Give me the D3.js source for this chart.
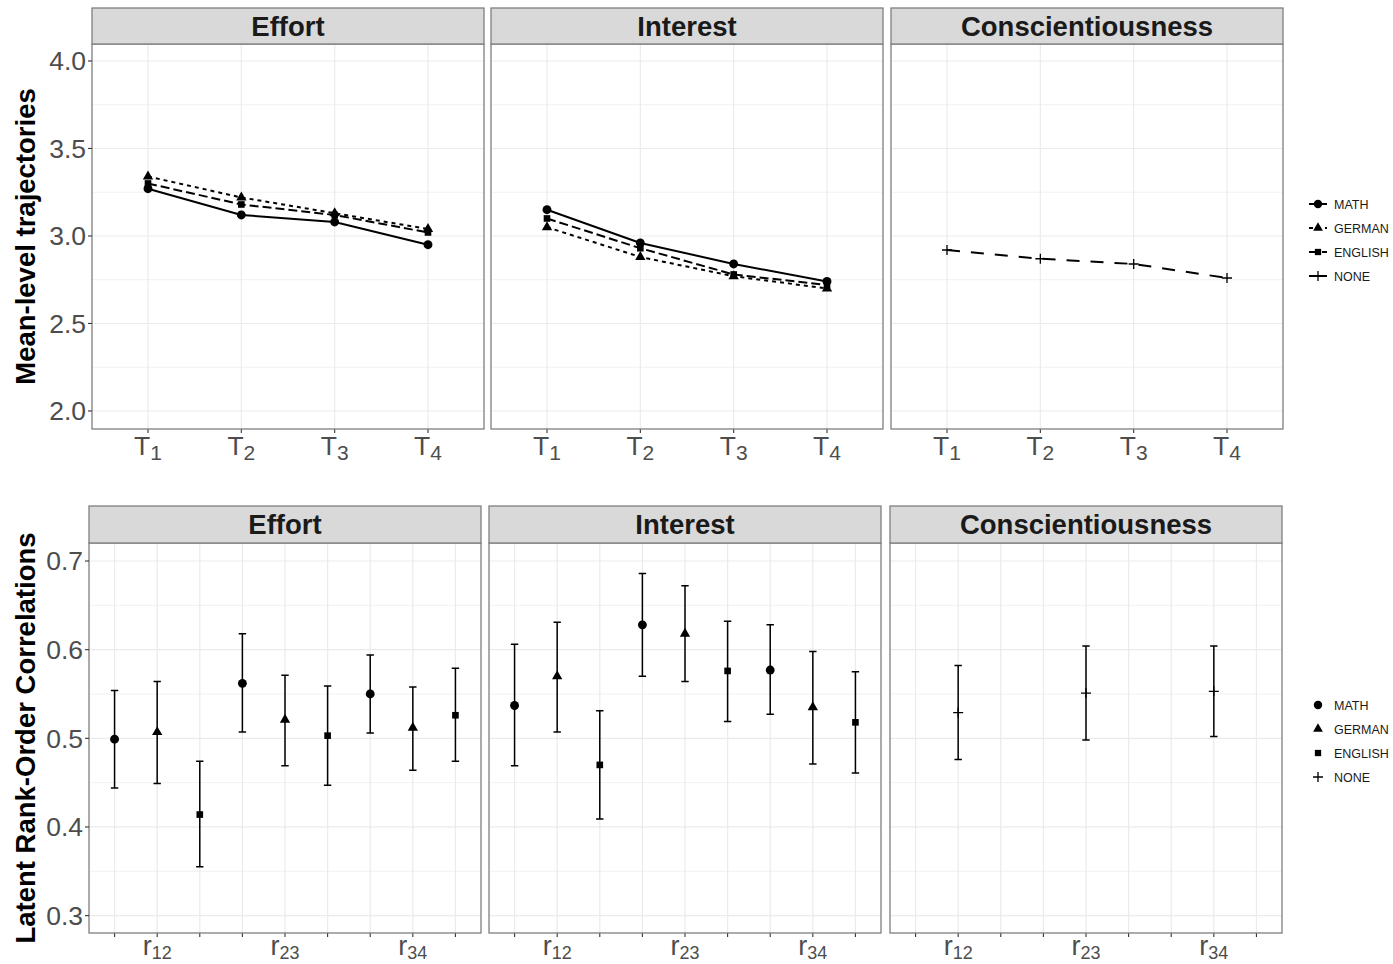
<!DOCTYPE html>
<html>
<head>
<meta charset="utf-8">
<script src="https://cdn.jsdelivr.net/npm/d3@7"></script>
<style>
  body { margin: 0; background: #fff; }
  text { font-family: "Liberation Sans", Arial, sans-serif; }
</style>
</head>
<body>
<svg id="chart" width="1393" height="964"></svg>
<script>
var facets = ["Effort", "Interest", "Conscientiousness"];
var groups = ["MATH", "GERMAN", "ENGLISH", "NONE"];
var timePoints = ["1", "2", "3", "4"];
var lags = ["12", "23", "34"];
var meanTicks = [2.0, 2.5, 3.0, 3.5, 4.0];
var corrTicks = [0.3, 0.4, 0.5, 0.6, 0.7];

// mean-level trajectories (T1..T4)
var effortMath    = [3.27, 3.12, 3.08, 2.95];
var effortGerman  = [3.34, 3.22, 3.13, 3.04];
var effortEnglish = [3.30, 3.18, 3.12, 3.02];
var interestMath    = [3.15, 2.96, 2.84, 2.74];
var interestGerman  = [3.05, 2.88, 2.77, 2.70];
var interestEnglish = [3.10, 2.93, 2.78, 2.72];
var conscNone = [2.92, 2.87, 2.84, 2.76];

// rank-order correlations, slots: MATH/GERMAN/ENGLISH for r12, r23, r34
var effortCorr  = [0.499, 0.507, 0.414, 0.562, 0.521, 0.503, 0.550, 0.512, 0.526];
var effortLow   = [0.444, 0.449, 0.355, 0.507, 0.469, 0.447, 0.506, 0.464, 0.474];
var effortHigh  = [0.554, 0.564, 0.474, 0.618, 0.571, 0.559, 0.594, 0.558, 0.579];
var interestCorr = [0.537, 0.570, 0.470, 0.628, 0.618, 0.576, 0.577, 0.535, 0.518];
var interestLow  = [0.469, 0.507, 0.409, 0.570, 0.564, 0.519, 0.527, 0.471, 0.461];
var interestHigh = [0.606, 0.631, 0.531, 0.686, 0.672, 0.632, 0.628, 0.598, 0.575];
var conscSlots = [1, 4, 7];
var conscCorr  = [0.529, 0.551, 0.553];
var conscLow   = [0.476, 0.498, 0.502];
var conscHigh  = [0.582, 0.604, 0.604];

var svg = d3.select("#chart");
var panelW = 392;

var dashes = { MATH: null, GERMAN: "4,4", ENGLISH: "9,4", NONE: "13,11" };

function drawShape(g, group, x, y, s) {
  if (group == "NONE") {
    g.append("path")
      .attr("d", "M" + (x - 5) + "," + y + "h10M" + x + "," + (y - 5) + "v10")
      .attr("stroke", "#000").attr("stroke-width", 1.3).attr("fill", "none");
    return;
  }
  var type = group == "MATH" ? d3.symbolCircle : group == "GERMAN" ? d3.symbolTriangle : d3.symbolSquare;
  var size = group == "MATH" ? 62 * s : group == "GERMAN" ? 46 * s : 44 * s;
  g.append("path")
    .attr("d", d3.symbol().type(type).size(size)())
    .attr("transform", "translate(" + x + "," + y + ")")
    .attr("fill", "#000");
}

function drawPanelFrame(left, top, bottom, stripTop, yScale, majors, minors, xs, title, showY, fmt) {
  var g = svg.append("g");
  g.append("rect").attr("x", left).attr("y", top).attr("width", panelW).attr("height", bottom - top).attr("fill", "#fff");
  minors.forEach(function(v) {
    g.append("line").attr("x1", left).attr("x2", left + panelW)
      .attr("y1", yScale(v)).attr("y2", yScale(v))
      .attr("stroke", "#ebebeb").attr("stroke-width", 0.7);
  });
  majors.forEach(function(v) {
    g.append("line").attr("x1", left).attr("x2", left + panelW)
      .attr("y1", yScale(v)).attr("y2", yScale(v))
      .attr("stroke", "#ebebeb").attr("stroke-width", 1.2);
  });
  xs.forEach(function(x) {
    g.append("line").attr("x1", x).attr("x2", x).attr("y1", top).attr("y2", bottom)
      .attr("stroke", "#ebebeb").attr("stroke-width", 1.2);
    g.append("line").attr("x1", x).attr("x2", x).attr("y1", bottom).attr("y2", bottom + 4)
      .attr("stroke", "#333").attr("stroke-width", 1.1);
  });
  g.append("rect").attr("x", left).attr("y", top).attr("width", panelW).attr("height", bottom - top)
    .attr("fill", "none").attr("stroke", "#7f7f7f").attr("stroke-width", 1.3);
  // strip
  g.append("rect").attr("x", left).attr("y", stripTop).attr("width", panelW).attr("height", top - stripTop)
    .attr("fill", "#d9d9d9").attr("stroke", "#7f7f7f").attr("stroke-width", 1.3);
  g.append("text").attr("x", left + panelW / 2).attr("y", (stripTop + top) / 2 + 9.5)
    .attr("text-anchor", "middle").attr("font-size", 27.5).attr("font-weight", "bold")
    .attr("fill", "#1a1a1a").text(title);
  if (showY) {
    majors.forEach(function(v) {
      g.append("line").attr("x1", left - 4).attr("x2", left).attr("y1", yScale(v)).attr("y2", yScale(v))
        .attr("stroke", "#333").attr("stroke-width", 1.1);
      g.append("text").attr("x", left - 6).attr("y", yScale(v) + 9.5)
        .attr("text-anchor", "end").attr("font-size", 26.5).attr("fill", "#4d4d4d").text(fmt(v));
    });
  }
  return g;
}

// ---------- top row: mean-level trajectories ----------
var topLefts = [92, 491, 891];
var topTop = 44, topBottom = 429;
var yMean = d3.scaleLinear().domain([1.897, 4.097]).range([topBottom, topTop]);

var meanSeries = [
  { facet: 0, group: "MATH", values: effortMath },
  { facet: 0, group: "GERMAN", values: effortGerman },
  { facet: 0, group: "ENGLISH", values: effortEnglish },
  { facet: 1, group: "MATH", values: interestMath },
  { facet: 1, group: "GERMAN", values: interestGerman },
  { facet: 1, group: "ENGLISH", values: interestEnglish },
  { facet: 2, group: "NONE", values: conscNone }
];

facets.forEach(function(f, i) {
  var left = topLefts[i];
  var x = d3.scalePoint().domain(timePoints).range([left, left + panelW]).padding(0.6);
  var g = drawPanelFrame(left, topTop, topBottom, 8, yMean, meanTicks, [2.25, 2.75, 3.25, 3.75],
    timePoints.map(function(t) { return x(t); }), f, i == 0, d3.format(".1f"));

  timePoints.forEach(function(t) {
    var lab = g.append("text").attr("x", x(t)).attr("y", 455).attr("text-anchor", "middle")
      .attr("fill", "#4d4d4d");
    lab.append("tspan").attr("font-size", 26.5).text("T");
    lab.append("tspan").attr("font-size", 21).attr("dy", 5).text(t);
  });

  var series = meanSeries.filter(function(s) { return s.facet == i; });
  var line = d3.line().x(function(d, j) { return x(timePoints[j]); }).y(function(d) { return yMean(d); });
  series.forEach(function(s) {
    g.append("path").attr("d", line(s.values)).attr("fill", "none")
      .attr("stroke", "#000").attr("stroke-width", 2)
      .attr("stroke-dasharray", dashes[s.group]);
  });
  series.forEach(function(s) {
    s.values.forEach(function(v, j) { drawShape(g, s.group, x(timePoints[j]), yMean(v), 1); });
  });
});

// ---------- bottom row: rank-order correlations ----------
var botLefts = [89, 489, 890];
var botTop = 543, botBottom = 933;
var yCorr = d3.scaleLinear().domain([0.2804, 0.7203]).range([botBottom, botTop]);
var slots = d3.range(9);

var corrSeries = [
  { est: effortCorr, low: effortLow, high: effortHigh, slots: slots },
  { est: interestCorr, low: interestLow, high: interestHigh, slots: slots },
  { est: conscCorr, low: conscLow, high: conscHigh, slots: conscSlots }
];

facets.forEach(function(f, i) {
  var left = botLefts[i];
  var x = d3.scalePoint().domain(slots).range([left, left + panelW]).padding(0.6);
  var g = drawPanelFrame(left, botTop, botBottom, 506, yCorr, corrTicks, [0.35, 0.45, 0.55, 0.65],
    slots.map(function(s) { return x(s); }), f, i == 0, d3.format(".1f"));

  lags.forEach(function(l, k) {
    var lab = g.append("text").attr("x", x(k * 3 + 1)).attr("y", 955).attr("text-anchor", "middle")
      .attr("fill", "#4d4d4d");
    lab.append("tspan").attr("font-size", 27).text("r");
    lab.append("tspan").attr("font-size", 18).attr("dy", 4).text(l);
  });

  var c = corrSeries[i];
  c.est.forEach(function(v, j) {
    var sx = x(c.slots[j]);
    var group = i == 2 ? "NONE" : groups[c.slots[j] % 3];
    var eb = "M" + sx + "," + yCorr(c.high[j]) + "V" + yCorr(c.low[j]) +
      "M" + (sx - 3.7) + "," + yCorr(c.high[j]) + "h7.4" +
      "M" + (sx - 3.7) + "," + yCorr(c.low[j]) + "h7.4";
    g.append("path").attr("d", eb).attr("stroke", "#000").attr("stroke-width", 1.5).attr("fill", "none");
    drawShape(g, group, sx, yCorr(v), 1);
  });
});

// ---------- axis titles ----------
svg.append("text").attr("transform", "translate(35," + (topTop + topBottom) / 2 + ") rotate(-90)")
  .attr("text-anchor", "middle").attr("font-size", 27.5).attr("font-weight", "bold")
  .text("Mean-level trajectories");
svg.append("text").attr("transform", "translate(35," + (botTop + botBottom) / 2 + ") rotate(-90)")
  .attr("text-anchor", "middle").attr("font-size", 27.5).attr("font-weight", "bold")
  .text("Latent Rank-Order Correlations");

// ---------- legends ----------
function legend(y0, withLines) {
  var g = svg.append("g");
  groups.forEach(function(gr, i) {
    var y = y0 + i * 24;
    if (withLines) {
      g.append("line").attr("x1", 1309).attr("x2", 1327).attr("y1", y).attr("y2", y)
        .attr("stroke", "#000").attr("stroke-width", 2)
        .attr("stroke-dasharray", gr == "NONE" ? null : dashes[gr]);
    }
    drawShape(g, gr, 1318, y, 0.9);
    g.append("text").attr("x", 1334).attr("y", y + 4.5).attr("font-size", 12.5).attr("fill", "#1a1a1a").text(gr);
  });
}
legend(204, true);
legend(705, false);
</script>
</body>
</html>
